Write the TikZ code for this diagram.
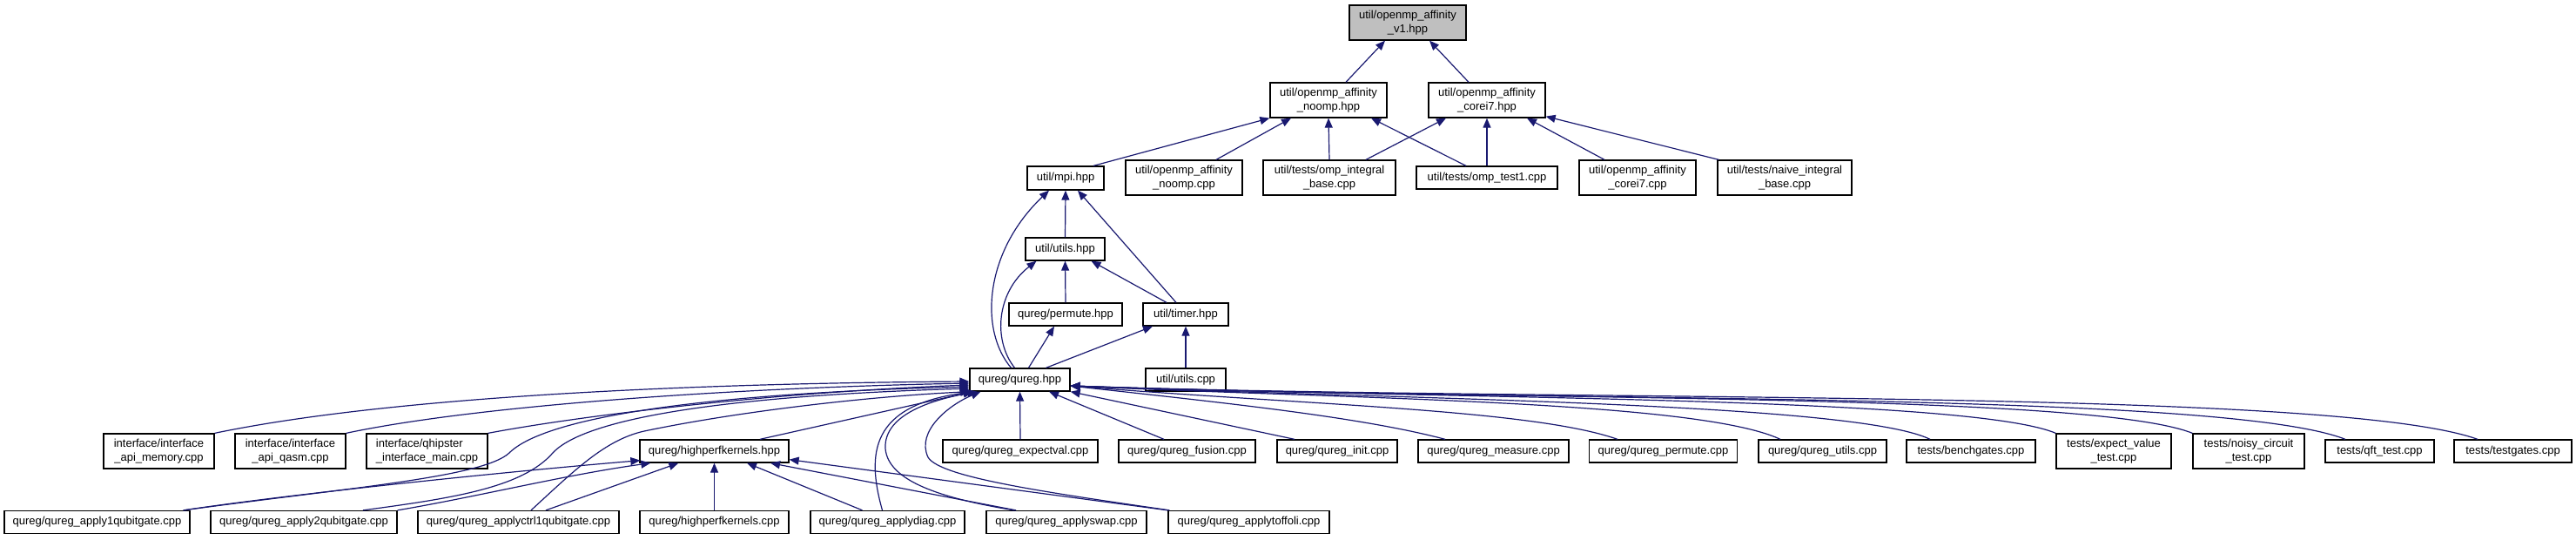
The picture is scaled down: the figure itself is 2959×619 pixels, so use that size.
\documentclass[tikz,border=0pt]{standalone}
\usepackage{fontspec}
\setmainfont{Liberation Sans}
\usetikzlibrary{arrows.meta,calc}
\definecolor{edgeblue}{HTML}{191970}
\begin{document}
\begin{tikzpicture}[x=1pt,y=-1pt,
  box/.style={draw=black, line width=1.3pt, fill=white, inner sep=0pt, align=center,
    font=\fontsize{13}{15.5}\selectfont},
  rootbox/.style={box, fill=gray!50},
  edge/.style={draw=edgeblue, line width=1.2pt, -{Triangle[length=11pt,width=9pt]}}]
\useasboundingbox (0,0) rectangle (2959,619);
% level 0-1
\node[rootbox, minimum width=134pt, minimum height=40pt] (root) at (1617,26) {util/openmp\_affinity\\\_v1.hpp};
\node[box, minimum width=134pt, minimum height=40pt] (noomph) at (1526,115) {util/openmp\_affinity\\\_noomp.hpp};
\node[box, minimum width=134pt, minimum height=40pt] (corei7h) at (1708,115) {util/openmp\_affinity\\\_corei7.hpp};
% level 2
\node[box, minimum width=88pt, minimum height=27pt] (mpi) at (1224,204.5) {util/mpi.hpp};
\node[box, minimum width=134pt, minimum height=40pt] (noompc) at (1360,204) {util/openmp\_affinity\\\_noomp.cpp};
\node[box, minimum width=152pt, minimum height=40pt] (ompint) at (1527,204) {util/tests/omp\_integral\\\_base.cpp};
\node[box, minimum width=162pt, minimum height=26pt] (omptest1) at (1708,204) {util/tests/omp\_test1.cpp};
\node[box, minimum width=134pt, minimum height=40pt] (corei7c) at (1881,204) {util/openmp\_affinity\\\_corei7.cpp};
\node[box, minimum width=154pt, minimum height=40pt] (naive) at (2050,204) {util/tests/naive\_integral\\\_base.cpp};
% middle
\node[box, minimum width=91pt, minimum height=26pt] (utilsh) at (1223.5,286) {util/utils.hpp};
\node[box, minimum width=130pt, minimum height=26pt] (permuteh) at (1224,361) {qureg/permute.hpp};
\node[box, minimum width=98pt, minimum height=26pt] (timer) at (1362,361) {util/timer.hpp};
\node[box, minimum width=115pt, minimum height=26pt] (qureg) at (1171.5,436) {qureg/qureg.hpp};
\node[box, minimum width=92pt, minimum height=26pt] (utilscpp) at (1362,436) {util/utils.cpp};
% row 3
\node[box, minimum width=127pt, minimum height=40pt] (apimem) at (182.5,518) {interface/interface\\\_api\_memory.cpp};
\node[box, minimum width=127pt, minimum height=40pt] (apiqasm) at (333.5,518) {interface/interface\\\_api\_qasm.cpp};
\node[box, align=left, minimum width=139pt, minimum height=40pt] (qhip) at (490.5,518) {interface/qhipster\\\_interface\_main.cpp};
\node[box, minimum width=171pt, minimum height=26pt] (hpkh) at (820.5,518) {qureg/highperfkernels.hpp};
\node[box, minimum width=178pt, minimum height=26pt] (expectval) at (1172,518) {qureg/qureg\_expectval.cpp};
\node[box, minimum width=157pt, minimum height=26pt] (fusion) at (1363.5,518) {qureg/qureg\_fusion.cpp};
\node[box, minimum width=138pt, minimum height=26pt] (init) at (1536,518) {qureg/qureg\_init.cpp};
\node[box, minimum width=173pt, minimum height=26pt] (measure) at (1715.5,518) {qureg/qureg\_measure.cpp};
\node[box, minimum width=170pt, minimum height=26pt] (permutec) at (1910.5,518) {qureg/qureg\_permute.cpp};
\node[box, minimum width=147pt, minimum height=26pt] (qutils) at (2093.5,518) {qureg/qureg\_utils.cpp};
\node[box, minimum width=148pt, minimum height=26pt] (bench) at (2264,518) {tests/benchgates.cpp};
\node[box, minimum width=132pt, minimum height=40pt] (evtest) at (2428,518) {tests/expect\_value\\\_test.cpp};
\node[box, minimum width=128pt, minimum height=40pt] (noisy) at (2583,518) {tests/noisy\_circuit\\\_test.cpp};
\node[box, minimum width=125pt, minimum height=26pt] (qft) at (2733.5,518) {tests/qft\_test.cpp};
\node[box, minimum width=135pt, minimum height=26pt] (testgates) at (2886.5,518) {tests/testgates.cpp};
% row 4
\node[box, minimum width=213pt, minimum height=26pt] (a1q) at (111.5,599.5) {qureg/qureg\_apply1qubitgate.cpp};
\node[box, minimum width=214pt, minimum height=26pt] (a2q) at (349,599.5) {qureg/qureg\_apply2qubitgate.cpp};
\node[box, minimum width=231pt, minimum height=26pt] (actrl) at (595.5,599.5) {qureg/qureg\_applyctrl1qubitgate.cpp};
\node[box, minimum width=171pt, minimum height=26pt] (hpkc) at (820.5,599.5) {qureg/highperfkernels.cpp};
\node[box, minimum width=177pt, minimum height=26pt] (adiag) at (1019.5,599.5) {qureg/qureg\_applydiag.cpp};
\node[box, minimum width=184pt, minimum height=26pt] (aswap) at (1225,599.5) {qureg/qureg\_applyswap.cpp};
\node[box, minimum width=185pt, minimum height=26pt] (atoff) at (1434.5,599.5) {qureg/qureg\_applytoffoli.cpp};
% top edges
\draw[edge] ($(noomph.north)+(20,0)$) -- ($(root.south)+(-26,0)$);
\draw[edge] ($(corei7h.north)+(-21,0)$) -- ($(root.south)+(25,0)$);
\draw[edge] ($(mpi.north)+(32,0)$) -- (noomph.south west);
\draw[edge] ($(noompc.north)+(37,0)$) -- ($(noomph.south)+(-43,0)$);
\draw[edge] (ompint.north) -- (noomph.south);
\draw[edge] ($(omptest1.north)+(-24,0)$) -- ($(noomph.south)+(49,0)$);
\draw[edge] ($(ompint.north)+(42,0)$) -- ($(corei7h.south)+(-47,0)$);
\draw[edge] (omptest1.north) -- (corei7h.south);
\draw[edge] ($(corei7c.north)+(-38,0)$) -- ($(corei7h.south)+(46,0)$);
\draw[edge] ($(naive.north west)+(2,0)$) -- ($(corei7h.south east)+(0,-2)$);
% middle edges
\draw[edge] (utilsh.north) -- (mpi.south);
\draw[edge] ($(timer.north)+(-11,0)$) -- ($(mpi.south)+(14,0)$);
\draw[edge] ($(qureg.north)+(-10,0)$) .. controls (1125,380) and (1130,290) .. ($(mpi.south)+(-19,0)$);
\draw[edge] (permuteh.north) -- (utilsh.south);
\draw[edge] ($(timer.north)+(-22,0)$) -- ($(utilsh.south)+(30,0)$);
\draw[edge] ($(qureg.north)+(-6,0)$) .. controls (1140,390) and (1145,335) .. ($(utilsh.south)+(-33,0)$);
\draw[edge] ($(qureg.north)+(10,0)$) -- ($(permuteh.south)+(-13,0)$);
\draw[edge] ($(qureg.north)+(30,0)$) -- ($(timer.south)+(-38,0)$);
\draw[edge] (utilscpp.north) -- (timer.south);
% left fan into qureg
\draw[edge] (apimem.north east) .. controls (450,455) and (800,440) .. ($(qureg.west)+(0,2)$);
\draw[edge] (apiqasm.north east) .. controls (550,465) and (850,445) .. ($(qureg.west)+(0,4)$);
\draw[edge] (qhip.north east) .. controls (680,475) and (900,450) .. ($(qureg.west)+(0,6)$);
\draw[edge] ($(a1q.north east)+(-8,0)$) .. controls (400,560) and (555,548) .. (585,520) .. controls (625,480) and (800,452) .. ($(qureg.west)+(0,8)$);
\draw[edge] ($(a2q.north)+(68,0)$) .. controls (520,572) and (600,560) .. (635,520) .. controls (670,482) and (820,455) .. ($(qureg.west)+(0,10)$);
\draw[edge] ($(actrl.north)+(14.5,0)$) .. controls (660,540) and (695,505) .. (740,495) .. controls (850,472) and (1000,455) .. ($(qureg.south west)+(1,0)$);
\draw[edge] ($(hpkh.north)+(52.5,0)$) -- ($(qureg.south west)+(4,0)$);
\draw[edge] ($(adiag.north)+(-6,0)$) .. controls (995,520) and (1000,465) .. ($(qureg.south west)+(6,0)$);
\draw[edge] ($(aswap.north)+(-60,0)$) .. controls (1080,572) and (1020,552) .. (1017,515) .. controls (1015,478) and (1065,460) .. ($(qureg.south west)+(9,0)$);
\draw[edge] ($(atoff.north west)+(2,0)$) .. controls (1200,565) and (1080,548) .. (1066,525) .. controls (1052,495) and (1090,465) .. ($(qureg.south west)+(13,0)$);
% into highperfkernels.hpp
\draw[edge] ($(a1q.north east)+(-8,0)$) .. controls (350,565) and (600,540) .. ($(hpkh.south west)+(1,-3)$);
\draw[edge] (a2q.north east) .. controls (550,570) and (650,545) .. ($(hpkh.south west)+(13,0)$);
\draw[edge] ($(actrl.north)+(31.5,0)$) -- ($(hpkh.south west)+(45,0)$);
\draw[edge] (hpkc.north) -- (hpkh.south);
\draw[edge] ($(adiag.north)+(-29,0)$) -- ($(hpkh.south)+(37.5,0)$);
\draw[edge] ($(aswap.north)+(-58,0)$) -- ($(hpkh.south)+(64.5,0)$);
\draw[edge] (atoff.north west) -- ($(hpkh.south east)+(0,-4)$);
% right fan into qureg
\draw[edge] (expectval.north) -- (qureg.south);
\draw[edge] ($(fusion.north)+(-26.5,0)$) -- ($(qureg.south)+(33.5,0)$);
\draw[edge] ($(init.north)+(-49,0)$) -- (qureg.south east);
\draw[edge] ($(measure.north)+(-55.5,0)$) .. controls (1560,478) and (1400,462) .. ($(qureg.east)+(0,7)$);
\draw[edge] ($(permutec.north)+(-52.5,0)$) .. controls (1760,470) and (1500,465) .. ($(qureg.east)+(0,7)$);
\draw[edge] ($(qutils.north)+(-48.5,0)$) .. controls (1950,460) and (1550,458) .. ($(qureg.east)+(0,7)$);
\draw[edge] ($(bench.north)+(-47,0)$) .. controls (2130,462) and (1600,458) .. ($(qureg.east)+(0,7)$);
\draw[edge] (evtest.north west) .. controls (2260,455) and (1650,458) .. ($(qureg.east)+(0,7)$);
\draw[edge] (noisy.north west) .. controls (2400,450) and (1700,460) .. ($(qureg.east)+(0,7)$);
\draw[edge] ($(qft.north)+(-39.5,0)$) .. controls (2550,448) and (1750,462) .. ($(qureg.east)+(0,7)$);
\draw[edge] ($(testgates.north)+(-40.5,0)$) .. controls (2680,445) and (1800,462) .. ($(qureg.east)+(0,7)$);
\end{tikzpicture}
\end{document}
